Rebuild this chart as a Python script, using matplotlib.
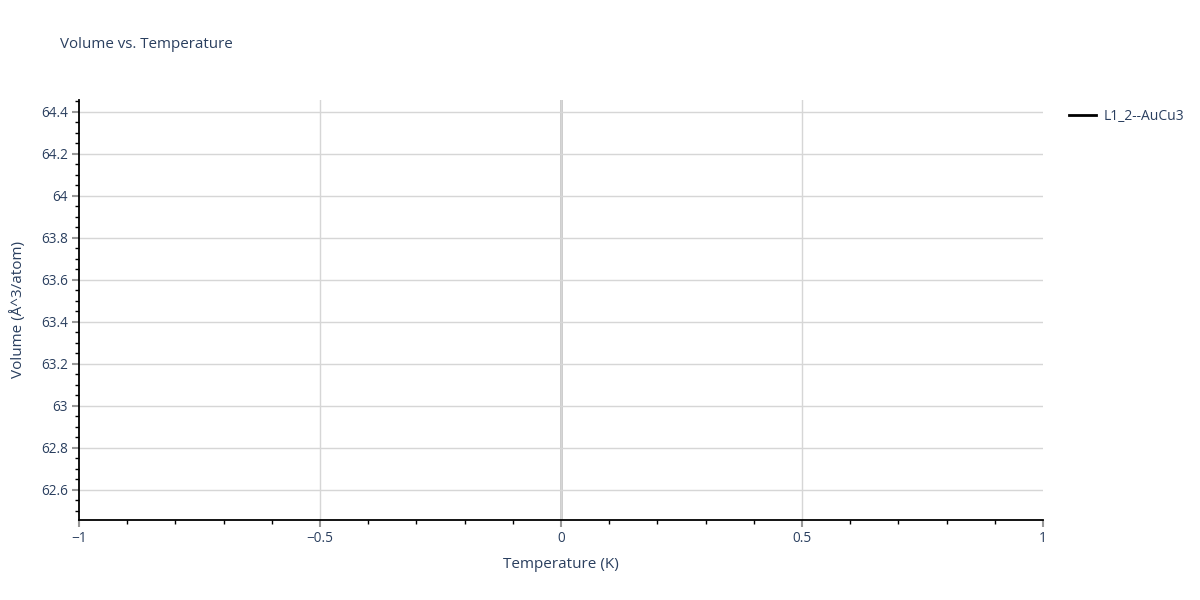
import matplotlib
matplotlib.use("Agg")
import matplotlib.pyplot as plt
from matplotlib.ticker import MultipleLocator, FuncFormatter
from matplotlib.lines import Line2D

# Data (single point: line not visible)
temperature = [0.0]
volume = [63.457]
series_name = "L1_2--AuCu3"

x_ticks = [-1, -0.5, 0, 0.5, 1]
y_ticks = [62.6, 62.8, 63.0, 63.2, 63.4, 63.6, 63.8, 64.0, 64.2, 64.4]

TXT = "#2a3f5f"
plt.rcParams['font.family'] = ['Open Sans', 'DejaVu Sans']

fig = plt.figure(figsize=(12, 6), dpi=100)
ax = fig.add_axes([79/1200, 80/600, (1043-79)/1200, 420/600])

ax.plot(temperature, volume, color="black", lw=2, label=series_name)

ax.set_xlim(-1, 1)
ax.set_ylim(62.457, 64.457)

ax.set_xticks(x_ticks)
ax.set_yticks(y_ticks)

def fmt_x(v, pos):
    s = f"{v:g}"
    return s.replace("-", "\u2212")
def fmt_y(v, pos):
    return f"{v:g}"
ax.xaxis.set_major_formatter(FuncFormatter(fmt_x))
ax.yaxis.set_major_formatter(FuncFormatter(fmt_y))

ax.xaxis.set_minor_locator(MultipleLocator(0.1))
ax.yaxis.set_minor_locator(MultipleLocator(0.05))

ax.grid(True, which="major", color="#d6d6d6", lw=1)
ax.set_axisbelow(True)
gl = ax.xaxis.get_gridlines()
gl[0].set_visible(False)
gl[-1].set_visible(False)
ax.axvline(0, color="#c8c8c8", lw=2, zorder=0.5)

for s in ["top", "right"]:
    ax.spines[s].set_visible(False)
for s in ["left", "bottom"]:
    ax.spines[s].set_color("black")
    ax.spines[s].set_linewidth(1.3)

ax.tick_params(which="major", direction="out", length=5, width=1.5, color="#999999",
               labelsize=9.8, labelcolor=TXT, pad=3)
ax.tick_params(which="minor", direction="out", length=3, width=1, color="black")

ax.set_xlabel("Temperature (K)", fontsize=11, color=TXT, labelpad=8)
ax.set_ylabel("Volume (Å^3/atom)", fontsize=11, color=TXT, labelpad=11)

fig.text(60/1200, 1 - 45/600, "Volume vs. Temperature", fontsize=10.9, color=TXT,
         va="center", ha="left")

handle = Line2D([0], [0], color="black", lw=2)
leg = fig.legend([handle], [series_name], loc="upper left",
                 bbox_to_anchor=(1063/1200, 1 - 103/600), frameon=False,
                 fontsize=10, handlelength=2.0, handletextpad=0.5, borderaxespad=0)
for t in leg.get_texts():
    t.set_color(TXT)

fig.savefig("out.png", dpi=100)
